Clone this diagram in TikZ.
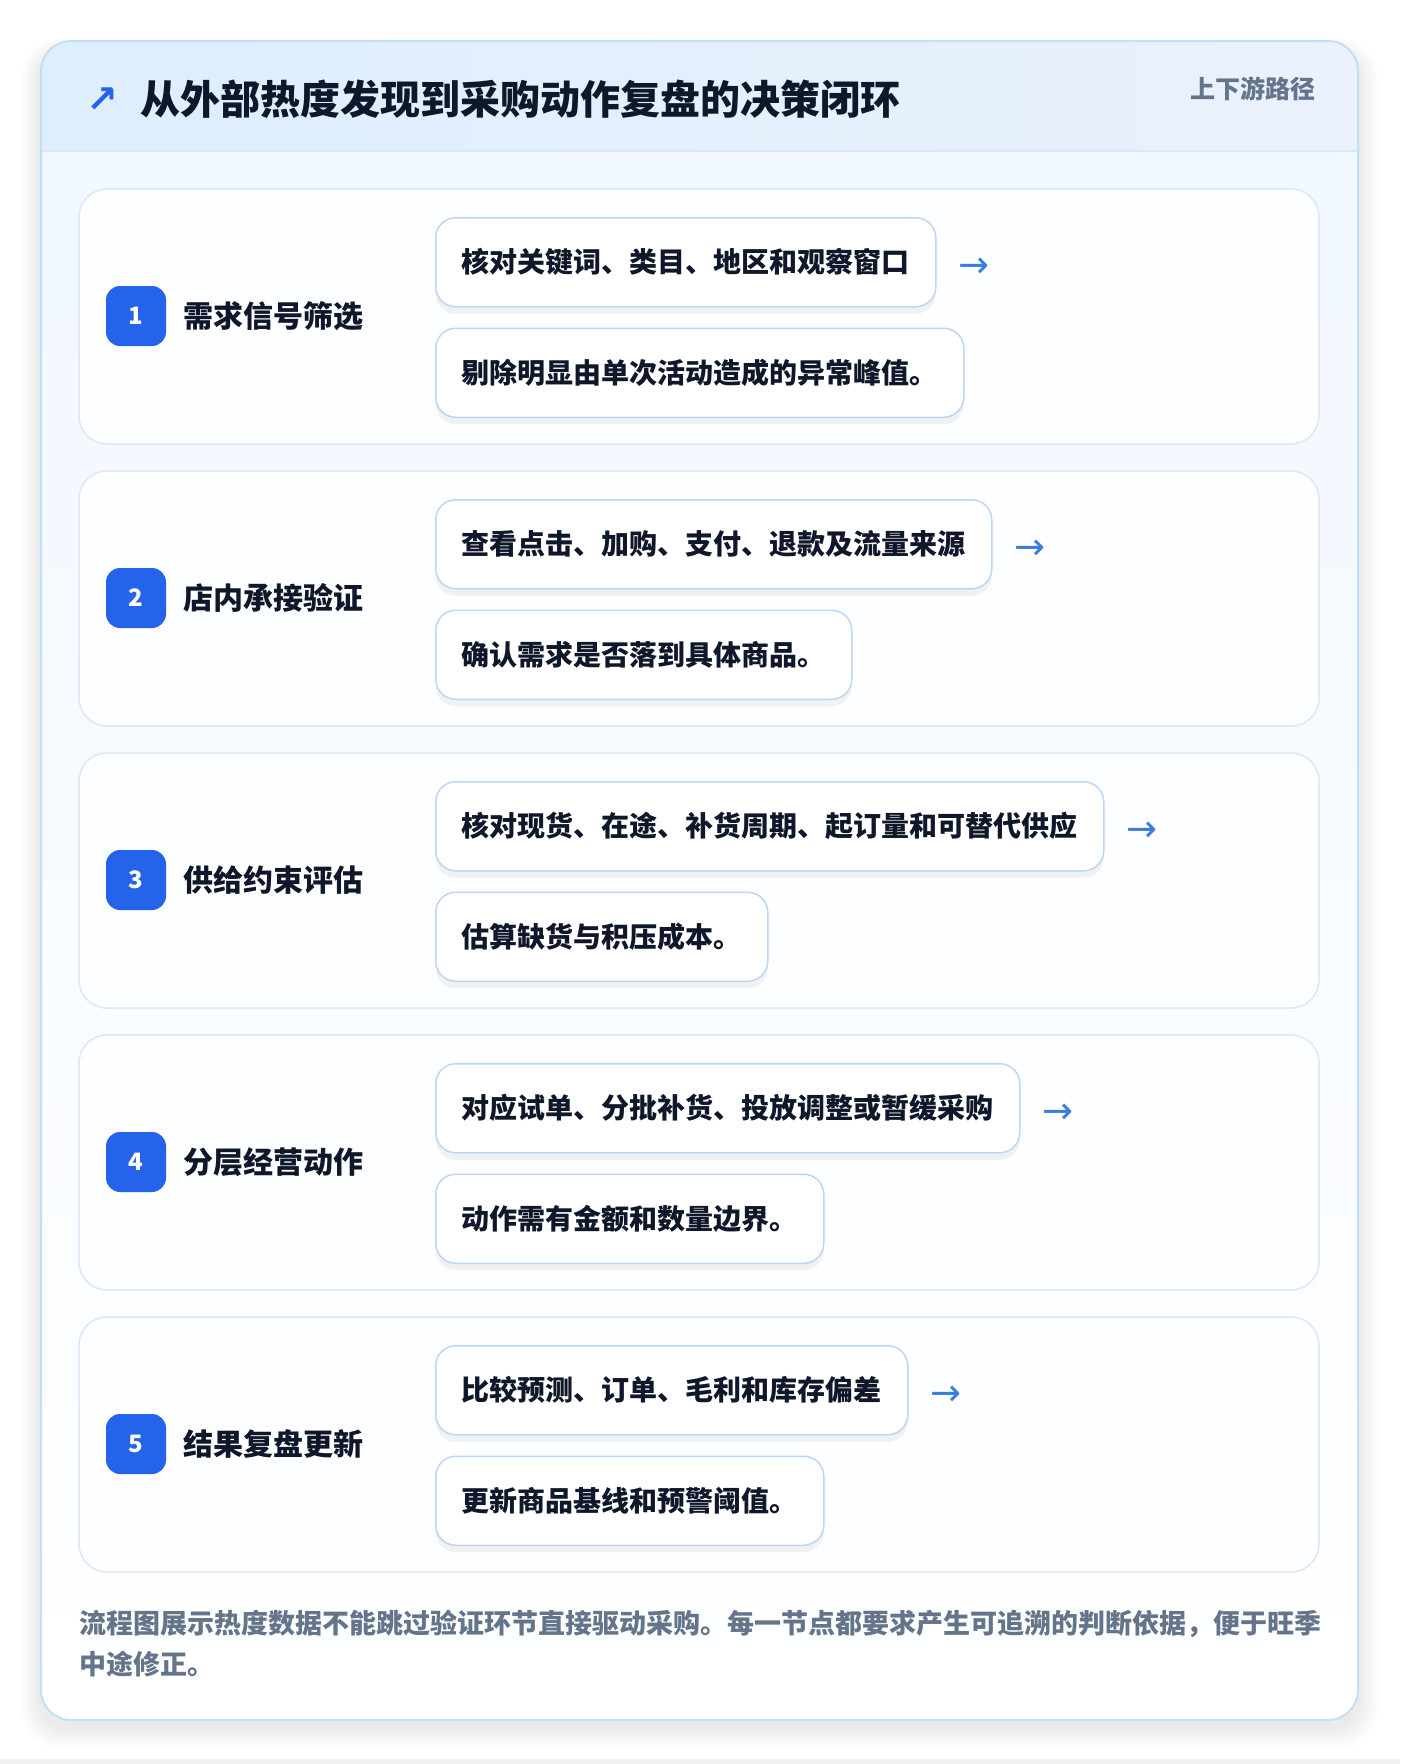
\documentclass[tikz,border=0pt]{standalone}
\usepackage{fontspec}
\setmainfont{Noto Sans CJK SC}
\newfontfamily\symfont{DejaVu Sans}
\usetikzlibrary{positioning,shadows}
\definecolor{ink}{HTML}{0F172A}
\definecolor{mutedgray}{HTML}{64748B}
\definecolor{badgeblue}{HTML}{2563EB}
\definecolor{arrowblue}{HTML}{3B7DDD}
\definecolor{frameline}{HTML}{BFE0F7}
\definecolor{headleft}{HTML}{DDEEFD}
\definecolor{headright}{HTML}{EBF1FD}
\definecolor{headrule}{HTML}{D8E7F9}
\definecolor{bodytop}{HTML}{F0F7FF}
\definecolor{stepline}{HTML}{DAE8F7}
\definecolor{stepfill}{HTML}{FDFEFF}
\definecolor{cardline}{HTML}{BCD6F4}
\tikzset{
  stepbox/.style   = {draw=stepline, line width=1.5pt, fill=stepfill,
                      rounded corners=28pt,
                      minimum width=1240pt, minimum height=255pt},
  badge/.style     = {fill=badgeblue, rounded corners=14pt,
                      minimum size=60pt, inner sep=0pt, text=white,
                      font=\bfseries\fontsize{24}{24}\selectfont},
  steptitle/.style = {text=ink, inner sep=0pt,
                      font=\bfseries\fontsize{30}{30}\selectfont},
  checkcard/.style = {draw=cardline, line width=1.5pt, fill=white,
                      rounded corners=20pt, minimum height=89pt,
                      inner xsep=26pt, text=ink,
                      font=\bfseries\fontsize{28}{28}\selectfont,
                      drop shadow={opacity=0.05, shadow xshift=0pt,
                                   shadow yshift=-7pt, fill=black}},
  flowarrow/.style = {text=arrowblue, inner sep=0pt, yshift=-5pt,
                      font=\symfont\fontsize{37}{37}\selectfont}
}

\begin{document}
\begin{tikzpicture}[x=1pt,y=-1pt]
 \useasboundingbox (0,0) rectangle (1400,1764);
 \fill[white] (0,0) rectangle (1400,1764);
 \fill[black!6] (0,1759) rectangle (1400,1764);

 % soft shadow of the panel
 \foreach \k in {1,...,10}
   \fill[black, opacity=0.007, rounded corners=30pt+\k pt]
     (41-2*\k,41-1*\k+8) rectangle (1358+2*\k,1720+2*\k+8);

 % panel
 \shade[rounded corners=30pt, top color=bodytop, bottom color=white]
   (41,41) rectangle (1358,1720);
 \begin{scope}
  \clip[rounded corners=30pt] (41,41) rectangle (1358,1720);
  \shade[left color=headleft, right color=headright] (41,41) rectangle (1358,151);
  \draw[headrule, line width=2pt] (41,151) -- (1358,151);
 \end{scope}
 \draw[frameline, line width=2pt, rounded corners=30pt] (41,41) rectangle (1358,1720);

 % header
 \node[text=badgeblue, inner sep=0pt, font=\symfont\bfseries\fontsize{38}{38}\selectfont]
   (icon) at (102,100) {↗};
 \node[anchor=west, inner sep=0pt, text=ink, font=\bfseries\fontsize{40}{40}\selectfont]
   (title) at (140,99) {从外部热度发现到采购动作复盘的决策闭环};
 \node[anchor=east, inner sep=0pt, text=mutedgray, font=\bfseries\fontsize{25}{25}\selectfont]
   (route) at (1316,89) {上下游路径};

 % step 1
 \node[stepbox] (s1) at (699,316.5) {};
 \node[badge] (b1) at (136,316) {1};
 \node[steptitle, right=17pt of b1] (t1) {需求信号筛选};
 \node[checkcard, anchor=north west] (c1a) at (435,217) {核对关键词、类目、地区和观察窗口};
 \node[checkcard, below=20pt of c1a.south west, anchor=north west] (c1b) {剔除明显由单次活动造成的异常峰值。};
 \node[flowarrow, right=22pt of c1a] (a1) {→};

 % step 2
 \node[stepbox] (s2) at (699,598.5) {};
 \node[badge] (b2) at (136,598) {2};
 \node[steptitle, right=17pt of b2] (t2) {店内承接验证};
 \node[checkcard, anchor=north west] (c2a) at (435,499) {查看点击、加购、支付、退款及流量来源};
 \node[checkcard, below=20pt of c2a.south west, anchor=north west] (c2b) {确认需求是否落到具体商品。};
 \node[flowarrow, right=22pt of c2a] (a2) {→};

 % step 3
 \node[stepbox] (s3) at (699,880.5) {};
 \node[badge] (b3) at (136,880) {3};
 \node[steptitle, right=17pt of b3] (t3) {供给约束评估};
 \node[checkcard, anchor=north west] (c3a) at (435,781) {核对现货、在途、补货周期、起订量和可替代供应};
 \node[checkcard, below=20pt of c3a.south west, anchor=north west] (c3b) {估算缺货与积压成本。};
 \node[flowarrow, right=22pt of c3a] (a3) {→};

 % step 4
 \node[stepbox] (s4) at (699,1162.5) {};
 \node[badge] (b4) at (136,1162) {4};
 \node[steptitle, right=17pt of b4] (t4) {分层经营动作};
 \node[checkcard, anchor=north west] (c4a) at (435,1063) {对应试单、分批补货、投放调整或暂缓采购};
 \node[checkcard, below=20pt of c4a.south west, anchor=north west] (c4b) {动作需有金额和数量边界。};
 \node[flowarrow, right=22pt of c4a] (a4) {→};

 % step 5
 \node[stepbox] (s5) at (699,1444.5) {};
 \node[badge] (b5) at (136,1444) {5};
 \node[steptitle, right=17pt of b5] (t5) {结果复盘更新};
 \node[checkcard, anchor=north west] (c5a) at (435,1345) {比较预测、订单、毛利和库存偏差};
 \node[checkcard, below=20pt of c5a.south west, anchor=north west] (c5b) {更新商品基线和预警阈值。};
 \node[flowarrow, right=22pt of c5a] (a5) {→};

 % footnote
 \node[anchor=north west, align=left, inner sep=0pt, text=mutedgray,
       font=\bfseries\fontsize{27}{41}\selectfont] (note) at (79,1610)
   {流程图展示热度数据不能跳过验证环节直接驱动采购。每一节点都要求产生可追溯的判断依据，便于旺季\\中途修正。};
\end{tikzpicture}
\end{document}
